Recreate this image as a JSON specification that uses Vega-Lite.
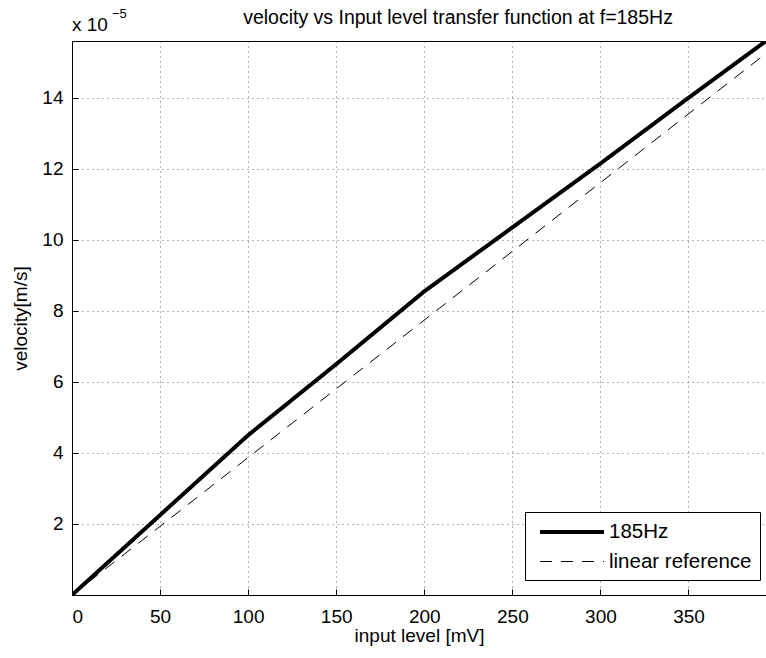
{
  "$schema": "https://vega.github.io/schema/vega-lite/v6.json",
  "width": 694,
  "height": 554,
  "autosize": {"type": "none"},
  "padding": {"left": 72, "top": 41, "right": 0, "bottom": 63},
  "background": "white",
  "config": {
    "font": "Liberation Sans",
    "view": {"stroke": "black", "strokeWidth": 1},
    "axis": {
      "labelFont": "Liberation Sans",
      "titleFont": "Liberation Sans",
      "labelFontSize": 19,
      "titleFontSize": 19,
      "titleFontWeight": "normal",
      "labelColor": "black",
      "titleColor": "black",
      "domainColor": "black",
      "tickColor": "black",
      "gridColor": "black",
      "gridOpacity": 0.6,
      "gridDash": [1, 4],
      "gridWidth": 1
    }
  },
  "title": {
    "text": "velocity vs Input level transfer function at f=185Hz",
    "font": "Liberation Sans",
    "fontSize": 19.5,
    "fontWeight": "normal",
    "color": "black",
    "anchor": "middle",
    "dx": 39,
    "offset": 0,
    "dy": 20
  },
  "datasets": {
    "curves": [
      {"input": 0, "velocity": 0, "series": "185Hz"},
      {"input": 50, "velocity": 0.0000225, "series": "185Hz"},
      {"input": 100, "velocity": 0.000045, "series": "185Hz"},
      {"input": 150, "velocity": 0.000065, "series": "185Hz"},
      {"input": 200, "velocity": 0.0000855, "series": "185Hz"},
      {"input": 250, "velocity": 0.0001035, "series": "185Hz"},
      {"input": 300, "velocity": 0.0001215, "series": "185Hz"},
      {"input": 350, "velocity": 0.00014, "series": "185Hz"},
      {"input": 394, "velocity": 0.000156, "series": "185Hz"},
      {"input": 0, "velocity": 0, "series": "linear reference"},
      {"input": 394, "velocity": 0.0001525, "series": "linear reference"}
    ]
  },
  "layer": [
    {
      "data": {"name": "curves"},
      "mark": {"type": "line", "clip": true},
      "encoding": {
        "x": {
          "field": "input",
          "type": "quantitative",
          "scale": {"domain": [0, 394], "nice": false, "zero": false},
          "axis": {
            "title": "input level [mV]",
            "values": [0, 50, 100, 150, 200, 250, 300, 350],
            "tickSize": -6,
            "labelPadding": 18,
            "titlePadding": 0,
            "grid": true
          }
        },
        "y": {
          "field": "velocity",
          "type": "quantitative",
          "scale": {"domain": [0, 0.000156], "nice": false, "zero": false},
          "axis": {
            "title": "velocity[m/s]",
            "values": [0.00002, 0.00004, 0.00006, 0.00008, 0.0001, 0.00012, 0.00014],
            "labelExpr": "format(round(datum.value*1e5), 'd')",
            "tickSize": -6,
            "labelPadding": 15,
            "titleX": -42,
            "grid": true
          }
        },
        "detail": {"field": "series"},
        "strokeDash": {
          "field": "series",
          "type": "nominal",
          "scale": {"domain": ["185Hz", "linear reference"], "range": [[1, 0], [12, 9]]},
          "legend": {
            "title": null,
            "orient": "none",
            "legendX": 453,
            "legendY": 471,
            "strokeColor": "black",
            "fillColor": "white",
            "padding": 8,
            "cornerRadius": 0,
            "labelFont": "Liberation Sans",
            "labelFontSize": 20.5,
            "labelColor": "black",
            "symbolType": "M-0.5,0H5.9",
            "symbolSize": 400,
            "symbolStrokeColor": "black",
            "rowPadding": 8,
            "labelOffset": 52
          }
        },
        "strokeWidth": {
          "field": "series",
          "type": "nominal",
          "scale": {"domain": ["185Hz", "linear reference"], "range": [4, 1]},
          "legend": null
        },
        "color": {"value": "black"}
      }
    },
    {
      "data": {"values": [{"label": "x 10"}]},
      "mark": {"type": "text", "align": "left", "baseline": "alphabetic", "fontSize": 19, "font": "Liberation Sans", "dx": 0, "dy": -10, "color": "black"},
      "encoding": {
        "x": {"datum": 0},
        "y": {"datum": 0.000156},
        "text": {"field": "label"}
      }
    },
    {
      "data": {"values": [{"label": "−5"}]},
      "mark": {"type": "text", "align": "left", "baseline": "alphabetic", "fontSize": 13, "font": "Liberation Sans", "dx": 40, "dy": -23, "color": "black"},
      "encoding": {
        "x": {"datum": 0},
        "y": {"datum": 0.000156},
        "text": {"field": "label"}
      }
    }
  ]
}
